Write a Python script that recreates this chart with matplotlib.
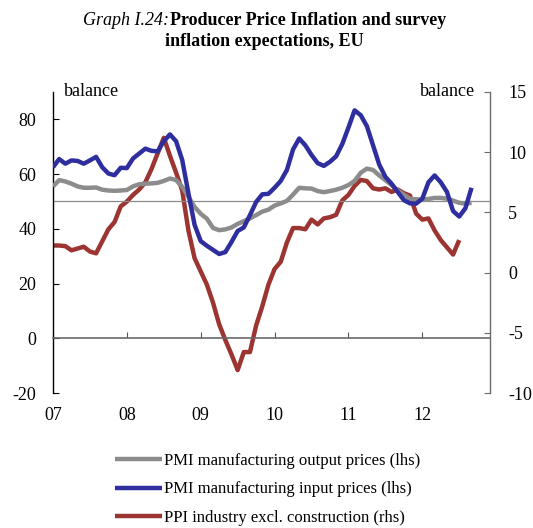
import matplotlib
matplotlib.use("Agg")
import matplotlib.pyplot as plt
import numpy as np

# Monthly data, Jan 2007 onwards (index 0 = Jan 2007)
pmi_output = [55.5, 57.8, 57.3, 56.5, 55.5, 55.0, 55.0, 55.1, 54.3, 54.0, 53.9, 54.0,
              54.2, 55.5, 56.3, 56.5, 56.6, 56.8, 57.5, 58.4, 57.8, 55.3, 51.7, 48.0,
              45.5, 43.7, 40.3, 39.5, 39.8, 40.5, 41.8, 42.8, 43.8, 45.0, 46.3, 47.0,
              48.5, 49.3, 50.2, 52.5, 55.0, 54.8, 54.7, 53.8, 53.4, 53.8, 54.3, 55.0,
              56.0, 57.5, 60.5, 62.0, 61.5, 59.5, 57.8, 56.0, 54.0, 52.5, 51.0, 50.8,
              50.7, 50.9, 51.3, 51.3, 51.0, 50.3, 49.5, 49.2, 49.5]
pmi_input = [62.5, 65.5, 63.8, 65.0, 64.8, 63.8, 65.0, 66.3, 62.5, 60.2, 59.6, 62.3,
             62.2, 65.7, 67.5, 69.3, 68.5, 68.3, 72.0, 74.5, 72.0, 65.1, 53.0, 41.5,
             35.5, 33.8, 32.3, 30.8, 31.5, 35.2, 39.2, 40.5, 45.0, 49.8, 52.6, 52.8,
             55.0, 57.5, 61.5, 69.0, 73.0, 70.5, 67.0, 64.0, 63.0, 64.5, 66.5, 71.0,
             77.0, 83.3, 81.5, 77.5, 70.5, 63.5, 59.0, 56.5, 53.5, 50.5, 49.3, 49.2,
             51.0, 57.0, 59.5, 57.0, 53.5, 46.5, 44.5, 47.5, 55.0]
ppi = [2.25, 2.25, 2.2, 1.85, 2.0, 2.15, 1.75, 1.6, 2.6, 3.6, 4.2, 5.5,
       5.9, 6.45, 6.9, 7.5, 8.6, 9.9, 11.2, 9.7, 8.3, 6.8, 3.5, 1.2,
       0.1, -1.0, -2.5, -4.3, -5.6, -6.8, -8.1, -6.6, -6.6, -4.4, -2.8, -1.0,
       0.3, 0.9, 2.5, 3.7, 3.7, 3.6, 4.4, 4.0, 4.5, 4.6, 4.8, 6.0,
       6.45, 7.2, 7.7, 7.6, 7.0, 6.9, 7.0, 6.7, 6.9, 6.6, 6.4, 4.9,
       4.4, 4.5, 3.5, 2.7, 2.1, 1.5, 2.7]
year_labels = ["07", "08", "09", "10", "11", "12"]
left_ticks = [-20, 0, 20, 40, 60, 80]
right_ticks = [-10, -5, 0, 5, 10, 15]
series_names = ["PMI manufacturing output prices (lhs)",
                "PMI manufacturing input prices (lhs)",
                "PPI industry excl. construction (rhs)"]

SERIF = "Liberation Serif"
plt.rcParams["font.family"] = SERIF

W, H = 533, 528
fig = plt.figure(figsize=(W / 100, H / 100), dpi=100)
ax = fig.add_axes([53/W, 1-393/H, (490-53)/W, (393-92)/H])
ax2 = ax.twinx()

c_gray = "#8c8c8c"
c_blue = "#2e2e9e"
c_red = "#9c3432"
lw = 3.2

x_out = np.arange(len(pmi_output))
x_in = np.arange(len(pmi_input))
x_ppi = np.arange(len(ppi))

ax.axhline(50, color="#8a8a8a", lw=0.9, zorder=1)
l1, = ax.plot(x_out, pmi_output, color=c_gray, lw=lw, zorder=3, solid_capstyle="butt")
l2, = ax.plot(x_in, pmi_input, color=c_blue, lw=lw, zorder=4, solid_capstyle="butt")
l3, = ax2.plot(x_ppi, ppi, color=c_red, lw=lw, zorder=3, solid_capstyle="butt")

ax.set_zorder(ax2.get_zorder() + 1)
ax.patch.set_visible(False)

ax.set_xlim(0, 71)
ax.set_ylim(-20, 90)
ax2.set_ylim(-10, 15)

# spines
ax.spines["top"].set_visible(False)
ax.spines["right"].set_visible(False)
ax.spines["left"].set_color("black")
ax.spines["left"].set_linewidth(1.0)
ax.spines["bottom"].set_position(("data", 0))
ax.spines["bottom"].set_color("#6a6a6a")
ax.spines["bottom"].set_linewidth(1.2)
for s in ["top", "left", "bottom"]:
    ax2.spines[s].set_visible(False)
ax2.spines["right"].set_color("#6a6a6a")
ax2.spines["right"].set_linewidth(1.0)

ax.set_yticks(left_ticks)
ax.set_yticklabels([str(t) for t in left_ticks])
ax.tick_params(axis="y", direction="in", length=4, width=0.8, labelsize=13, pad=12,
               colors="black")
ax2.set_yticks(right_ticks)
ax2.set_yticklabels([str(t) for t in right_ticks])
ax2.tick_params(axis="y", direction="in", length=4, width=0.8, labelsize=13, pad=13,
                color="#6a6a6a", labelcolor="black")

xt = [12 * i for i in range(len(year_labels))]
ax.set_xticks(xt)
ax.tick_params(axis="x", direction="in", length=4, width=0.8, color="#555555",
               labelbottom=False)

sec = ax.secondary_xaxis("bottom")
sec.spines["bottom"].set_visible(False)
sec.set_xticks(xt)
sec.set_xticklabels(year_labels)
sec.tick_params(axis="x", length=0, labelsize=13, pad=10)

ax.text(0.025, 1.0, "balance", transform=ax.transAxes, ha="left", va="center", fontsize=13)
ax2.text(0.965, 1.0, "balance", transform=ax2.transAxes, ha="right", va="center", fontsize=13)

# title: line 1 = italic prefix + bold text, centered as a whole
tsize = 13
t_it = fig.text(0, 1 - 25/H, "Graph I.24:", ha="left", va="baseline", fontsize=tsize,
                fontstyle="italic")
t_bd = fig.text(0, 1 - 25/H, "Producer Price Inflation and survey", ha="left",
                va="baseline", fontsize=tsize, fontweight="bold")
fig.text(264/W, 1 - 46/H, "inflation expectations, EU", ha="center", va="baseline",
         fontsize=tsize, fontweight="bold")
fig.canvas.draw()
r = fig.canvas.get_renderer()
w_it = t_it.get_window_extent(r).width
w_bd = t_bd.get_window_extent(r).width
x0 = 264 - (w_it + w_bd) / 2
t_it.set_x(x0 / W)
t_bd.set_x((x0 + w_it + 1) / W)

leg = fig.legend([l1, l2, l3], series_names, loc="upper left",
                 bbox_to_anchor=(108/W, 1-446/H), frameon=False, fontsize=12,
                 handlelength=2.85, handletextpad=0.1, labelspacing=0.76, borderaxespad=0)

fig.savefig("out.png", dpi=100)
